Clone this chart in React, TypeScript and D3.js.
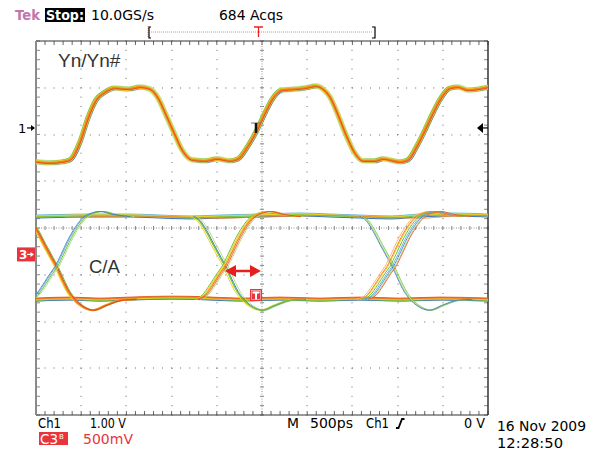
import React, { useEffect, useRef } from "react";
import * as d3 from "d3";

// Ch1 (Yn/Yn#) : time in ps, level in V
const ch1Times = [
  -2500, -2345, -2212, -2124, -2013, -1925, -1836, -1736, -1626, -1482, -1349, -1239, -1150, -1062, -973, -885,
  -774, -630, -498, -354, -265, -155, -55, 33, 122, 221, 365, 476, 597, 675, 752, 841, 929, 1018, 1117, 1250, 1338,
  1526, 1615, 1714, 1803, 1891, 1980, 2079, 2168, 2278, 2389, 2500,
];
const ch1Volts = [
  -0.725, -0.746, -0.725, -0.682, -0.298, 0.213, 0.597, 0.768, 0.853, 0.831, 0.874, 0.831, 0.64, 0.277, -0.107,
  -0.469, -0.682, -0.704, -0.661, -0.704, -0.661, -0.384, -0.043, 0.32, 0.64, 0.81, 0.831, 0.853, 0.895, 0.831,
  0.661, 0.277, -0.149, -0.512, -0.704, -0.704, -0.661, -0.725, -0.682, -0.384, -0.043, 0.32, 0.64, 0.853, 0.874,
  0.81, 0.831, 0.874,
];

// Ch3 (C/A) eye : steady levels
const ch3HighTimes = [-2500, -2234, -1902, -1460, -1128, -796, -465, -22, 420, 752, 1084, 1416, 1747, 2079, 2500];
const ch3HighVolts = [0.405, 0.411, 0.416, 0.416, 0.405, 0.395, 0.405, 0.416, 0.427, 0.416, 0.405, 0.395, 0.416, 0.427, 0.416];
const ch3LowTimes = [-2500, -2124, -1792, -1460, -1018, -686, -243, 199, 642, 1084, 1526, 1969, 2500];
const ch3LowVolts = [-0.48, -0.469, -0.48, -0.469, -0.459, -0.464, -0.48, -0.469, -0.48, -0.469, -0.48, -0.469, -0.48];

// Ch3 edges, time relative to the eye crossing
const fallTimes = [-354, -288, -221, -133, -55, 0, 66, 133, 199, 288, 409, 553, 719, 885];
const fallVolts = [0.405, 0.363, 0.267, 0.107, -0.032, -0.128, -0.267, -0.395, -0.48, -0.555, -0.597, -0.544, -0.491, -0.48];
const riseTimes = [-310, -221, -133, -55, 0, 66, 133, 221, 310, 387, 498, 642, 830];
const riseVolts = [-0.48, -0.437, -0.32, -0.203, -0.128, 0.0, 0.139, 0.288, 0.395, 0.437, 0.459, 0.427, 0.405];
const crossingTimes = [-2278, -409, 1449];

const W = 595;
const H = 453;
const left = 36;
const right = 488;
const top = 41;
const bottom = 415;

const orange = "#f08228";
const red = "#e6461e";
const yellow = "#f2d21e";
const green = "#6cbf3c";
const lightGreen = "#b4e08c";
const blue = "#3c74c4";
const cyan = "#6cb8d8";
const tekRed = "#e8343a";

type Layer = { c: string; w: number; dx?: number; dy?: number };

const App = () => {
  const svgRef = useRef<SVGSVGElement | null>(null);

  useEffect(() => {
    const svg = d3.select(svgRef.current);
    svg.selectAll("*").remove();

    const x = d3.scaleLinear().domain([-2500, 2500]).range([left, right]);
    const xDiv = d3.scaleLinear().domain([-5, 5]).range([left, right]);
    const yDiv = d3.scaleLinear().domain([-4, 4]).range([bottom, top]);
    const ch1Pos = 2.14;
    const ch3Pos = -0.565;
    const y1 = d3.scaleLinear().domain([-4 - ch1Pos, 4 - ch1Pos]).range([bottom, top]);
    const y3 = d3.scaleLinear().domain([(-4 - ch3Pos) * 0.5, (4 - ch3Pos) * 0.5]).range([bottom, top]);

    svg.append("rect").attr("width", W).attr("height", H).attr("fill", "#fff");

    svg
      .append("defs")
      .append("clipPath")
      .attr("id", "scr")
      .append("rect")
      .attr("x", left)
      .attr("y", top)
      .attr("width", right - left)
      .attr("height", bottom - top);

    // graticule
    const grid = svg.append("g");
    const minorX = d3.range(-5, 5.001, 0.2);
    const minorY = d3.range(-4, 4.001, 0.2);
    d3.range(-4, 5).forEach((i) => {
      if (i === 0) return;
      minorY.forEach((v) => {
        grid.append("rect").attr("x", Math.round(xDiv(i)) - 0.5).attr("y", yDiv(v) - 0.5).attr("width", 1).attr("height", 1).attr("fill", "#666");
      });
    });
    d3.range(-3, 4).forEach((j) => {
      if (j === 0) return;
      minorX.forEach((v) => {
        grid.append("rect").attr("x", xDiv(v) - 0.5).attr("y", Math.round(yDiv(j)) - 0.5).attr("width", 1).attr("height", 1).attr("fill", "#666");
      });
    });
    const cx = xDiv(0);
    const cy = yDiv(0);
    grid.append("line").attr("x1", cx).attr("x2", cx).attr("y1", top).attr("y2", bottom).attr("stroke", "#999").attr("stroke-dasharray", "1,1.5");
    grid.append("line").attr("x1", left).attr("x2", right).attr("y1", cy).attr("y2", cy).attr("stroke", "#999").attr("stroke-dasharray", "1,1.5");
    minorY.forEach((v) => {
      grid.append("line").attr("x1", cx - 2).attr("x2", cx + 2).attr("y1", yDiv(v)).attr("y2", yDiv(v)).attr("stroke", "#888");
      grid.append("line").attr("x1", left).attr("x2", left + 4).attr("y1", yDiv(v)).attr("y2", yDiv(v)).attr("stroke", "#888");
      grid.append("line").attr("x1", right - 4).attr("x2", right).attr("y1", yDiv(v)).attr("y2", yDiv(v)).attr("stroke", "#888");
    });
    minorX.forEach((v) => {
      grid.append("line").attr("x1", xDiv(v)).attr("x2", xDiv(v)).attr("y1", cy - 2).attr("y2", cy + 2).attr("stroke", "#888");
      grid.append("line").attr("x1", xDiv(v)).attr("x2", xDiv(v)).attr("y1", top).attr("y2", top + 4).attr("stroke", "#666");
      grid.append("line").attr("x1", xDiv(v)).attr("x2", xDiv(v)).attr("y1", bottom - 4).attr("y2", bottom).attr("stroke", "#666");
    });
    grid.append("line").attr("x1", left).attr("x2", right).attr("y1", top).attr("y2", top).attr("stroke", "#333");
    grid.append("line").attr("x1", left).attr("x2", right).attr("y1", bottom).attr("y2", bottom).attr("stroke", "#333");
    grid.append("line").attr("x1", right).attr("x2", right).attr("y1", top).attr("y2", bottom).attr("stroke", "#333").attr("stroke-width", 1.5);
    grid.append("line").attr("x1", left).attr("x2", left).attr("y1", top).attr("y2", bottom).attr("stroke", "#8a8a8a").attr("stroke-width", 2);

    const traces = svg.append("g").attr("clip-path", "url(#scr)");
    const draw = (d: string, layers: Layer[]) => {
      layers.forEach((l) => {
        traces
          .append("path")
          .attr("d", d)
          .attr("fill", "none")
          .attr("stroke", l.c)
          .attr("stroke-width", l.w)
          .attr("stroke-linejoin", "round")
          .attr("transform", `translate(${l.dx || 0},${l.dy || 0})`);
      });
    };

    const line1 = d3
      .line<number>()
      .x((_, i) => x(ch1Times[i]))
      .y((v) => y1(v))
      .curve(d3.curveMonotoneX);
    draw(line1(ch1Volts)!, [
      { c: lightGreen, w: 5.5 },
      { c: blue, w: 1, dx: 1.4, dy: 1.4 },
      { c: green, w: 1.2, dx: -1.4, dy: -1.2 },
      { c: yellow, w: 3.6 },
      { c: orange, w: 2.4 },
      { c: red, w: 0.8, dx: 0.4, dy: 0.6 },
    ]);

    // Ch3 levels
    const high = d3
      .line<number>()
      .x((_, i) => x(ch3HighTimes[i]))
      .y((v) => y3(v))
      .curve(d3.curveMonotoneX);
    draw(high(ch3HighVolts)!, [
      { c: lightGreen, w: 3 },
      { c: blue, w: 1, dy: 1.5 },
      { c: cyan, w: 1, dy: -1.5 },
      { c: green, w: 1.4 },
      { c: yellow, w: 1, dy: -0.6 },
      { c: orange, w: 0.8, dx: 30, dy: 0.8 },
    ]);
    const low = d3
      .line<number>()
      .x((_, i) => x(ch3LowTimes[i]))
      .y((v) => y3(v))
      .curve(d3.curveMonotoneX);
    draw(low(ch3LowVolts)!, [
      { c: lightGreen, w: 3.5, dy: 0.5 },
      { c: blue, w: 1, dy: 1.8 },
      { c: green, w: 1.2, dy: 1 },
      { c: yellow, w: 2 },
      { c: orange, w: 1.4, dy: -0.5 },
      { c: red, w: 0.8, dy: -1.2 },
    ]);

    const edgeColours: { fall: Layer[]; rise: Layer[] }[] = [
      {
        fall: [
          { c: yellow, w: 1.2, dx: -1.5 },
          { c: green, w: 1, dx: 2 },
          { c: orange, w: 2 },
          { c: red, w: 1, dx: 1 },
        ],
        rise: [
          { c: cyan, w: 1 },
          { c: lightGreen, w: 1, dx: 3 },
          { c: green, w: 1, dx: 1.5 },
          { c: blue, w: 0.8, dx: -1 },
        ],
      },
      {
        fall: [
          { c: lightGreen, w: 1, dx: 3 },
          { c: yellow, w: 1, dx: -2 },
          { c: blue, w: 1, dx: 1 },
          { c: green, w: 1.2 },
        ],
        rise: [
          { c: lightGreen, w: 1, dx: 3 },
          { c: green, w: 1, dx: -3 },
          { c: yellow, w: 1.2, dx: -1.5 },
          { c: orange, w: 1.2 },
          { c: red, w: 0.8, dx: 1.5 },
        ],
      },
      {
        fall: [
          { c: lightGreen, w: 1.2 },
          { c: green, w: 0.8, dx: 1.5 },
          { c: blue, w: 0.8, dx: -1 },
        ],
        rise: [
          { c: "#f8b878", w: 1, dx: -8 },
          { c: yellow, w: 1, dx: -5 },
          { c: green, w: 1, dx: -3 },
          { c: cyan, w: 1, dx: -1 },
          { c: blue, w: 0.8, dx: 0.5 },
          { c: lightGreen, w: 1, dx: 2 },
          { c: orange, w: 1, dx: -6 },
          { c: red, w: 0.8, dx: 3 },
        ],
      },
    ];

    crossingTimes.forEach((t0, k) => {
      const fall = d3
        .line<number>()
        .x((_, i) => x(t0 + fallTimes[i]))
        .y((v) => y3(v))
        .curve(d3.curveMonotoneX);
      const rise = d3
        .line<number>()
        .x((_, i) => x(t0 + riseTimes[i]))
        .y((v) => y3(v))
        .curve(d3.curveMonotoneX);
      draw(fall(fallVolts)!, edgeColours[k].fall);
      draw(rise(riseVolts)!, edgeColours[k].rise);
    });

    // markers
    const m = svg.append("g");
    // ch1 ground
    m.append("text").attr("x", 18).attr("y", 133).attr("font-family", "DejaVu Sans").attr("font-size", 13).text("1");
    m.append("line").attr("x1", 27).attr("x2", 34).attr("y1", y1(0)).attr("y2", y1(0)).attr("stroke", "#000").attr("stroke-width", 1.2);
    m.append("path").attr("d", `M35,${y1(0)} l-4,-3 v6 z`).attr("fill", "#000");
    // trigger level
    m.append("line").attr("x1", 480).attr("x2", right).attr("y1", y1(0)).attr("y2", y1(0)).attr("stroke", "#000").attr("stroke-width", 1.2);
    m.append("path").attr("d", `M477,${y1(0)} l6,-5 v10 z`).attr("fill", "#000");
    // ch3 ground
    m.append("rect").attr("x", 17).attr("y", y3(0) - 7).attr("width", 18).attr("height", 14).attr("fill", tekRed);
    m.append("text").attr("x", 19).attr("y", y3(0) + 5).attr("font-family", "DejaVu Sans").attr("font-weight", "bold").attr("font-size", 12).attr("fill", "#fff").text("3");
    m.append("line").attr("x1", 27).attr("x2", 33).attr("y1", y3(0)).attr("y2", y3(0)).attr("stroke", "#fff").attr("stroke-width", 1.2);
    m.append("path").attr("d", `M34,${y3(0)} l-3.5,-2.5 v5 z`).attr("fill", "#fff");

    // trigger T on Ch1
    m.append("line").attr("x1", 251).attr("x2", 261).attr("y1", 123).attr("y2", 123).attr("stroke", "#777").attr("stroke-width", 1);
    m.append("line").attr("x1", 256).attr("x2", 256).attr("y1", 123).attr("y2", 133).attr("stroke", "#111").attr("stroke-width", 2.5);

    // red double arrow
    const ay = 271;
    m.append("line").attr("x1", 232).attr("x2", 254).attr("y1", ay).attr("y2", ay).attr("stroke", "#e61e1e").attr("stroke-width", 2.5);
    m.append("path").attr("d", `M225,${ay} l11,-6 v12 z`).attr("fill", "#e61e1e");
    m.append("path").attr("d", `M261,${ay} l-11,-6 v12 z`).attr("fill", "#e61e1e");

    // red T box
    m.append("rect").attr("x", 250).attr("y", 289).attr("width", 12).attr("height", 12).attr("fill", tekRed);
    m.append("rect").attr("x", 251.5).attr("y", 290.5).attr("width", 9).attr("height", 9).attr("fill", "none").attr("stroke", "#f8b0b0").attr("stroke-width", 0.8);
    m.append("path").attr("d", "M252.5,292.5 h7 M256,292.5 v7").attr("stroke", "#fff").attr("stroke-width", 2);

    // top status line
    const t = svg.append("g").attr("font-family", "DejaVu Sans").attr("font-size", 14);
    t.append("text").attr("x", 15).attr("y", 20).attr("fill", "#c274ac").attr("font-weight", "bold").attr("textLength", 25).attr("lengthAdjust", "spacingAndGlyphs").text("Tek");
    t.append("rect").attr("x", 45).attr("y", 8).attr("width", 40).attr("height", 14).attr("fill", "#000");
    t.append("text").attr("x", 46).attr("y", 20).attr("fill", "#fff").attr("font-weight", "bold").attr("textLength", 38).attr("lengthAdjust", "spacingAndGlyphs").text("Stop:");
    t.append("text").attr("x", 91).attr("y", 20).attr("fill", "#000").attr("textLength", 63).attr("lengthAdjust", "spacingAndGlyphs").text("10.0GS/s");
    t.append("text").attr("x", 219).attr("y", 20).attr("fill", "#000").attr("textLength", 64).attr("lengthAdjust", "spacingAndGlyphs").text("684 Acqs");
    // record bracket
    t.append("line").attr("x1", 148).attr("x2", 148).attr("y1", 26).attr("y2", 38).attr("stroke", "#f08080").attr("stroke-dasharray", "1,1");
    t.append("path").attr("d", "M151,27 h-2 v11 h2").attr("fill", "none").attr("stroke", "#000").attr("stroke-width", 1.2);
    t.append("line").attr("x1", 151).attr("x2", 372).attr("y1", 32).attr("y2", 32).attr("stroke", "#f08080").attr("stroke-dasharray", "1,1");
    t.append("path").attr("d", "M372,27 h3 v11 h-3").attr("fill", "none").attr("stroke", "#000").attr("stroke-width", 1.2);
    t.append("path").attr("d", "M254,27 h9 M258.5,27 v10").attr("stroke", "#f02020").attr("stroke-width", 1.3);

    // channel labels
    const lab = svg.append("g").attr("font-family", "Liberation Sans, Arial").attr("fill", "#333");
    lab.append("text").attr("x", 58).attr("y", 67).attr("font-size", 19).text("Yn/Yn#");
    lab.append("text").attr("x", 89).attr("y", 273).attr("font-size", 18.5).text("C/A");

    // bottom readout
    const b = svg.append("g").attr("font-family", "DejaVu Sans").attr("font-size", 13.5);
    const by = 428;
    b.append("text").attr("x", 38).attr("y", by).attr("textLength", 23).attr("lengthAdjust", "spacingAndGlyphs").text("Ch1");
    b.append("text").attr("x", 90).attr("y", by).attr("textLength", 36).attr("lengthAdjust", "spacingAndGlyphs").text("1.00 V");
    b.append("text").attr("x", 287).attr("y", by).attr("textLength", 12).attr("lengthAdjust", "spacingAndGlyphs").text("M");
    b.append("text").attr("x", 310).attr("y", by).attr("textLength", 43).attr("lengthAdjust", "spacingAndGlyphs").text("500ps");
    b.append("text").attr("x", 366).attr("y", by).attr("textLength", 23).attr("lengthAdjust", "spacingAndGlyphs").text("Ch1");
    b.append("path").attr("d", "M396,428 h2.5 l3.5,-9 h2.5").attr("fill", "none").attr("stroke", "#000").attr("stroke-width", 1.8);
    b.append("text").attr("x", 485).attr("y", by).attr("text-anchor", "end").attr("textLength", 21).attr("lengthAdjust", "spacingAndGlyphs").text("0 V");
    b.append("rect").attr("x", 39).attr("y", 432).attr("width", 29).attr("height", 13).attr("fill", tekRed);
    b.append("text").attr("x", 40).attr("y", 444).attr("fill", "#fff").attr("textLength", 18).attr("lengthAdjust", "spacingAndGlyphs").text("C3");
    b.append("text").attr("x", 59).attr("y", 439).attr("fill", "#fff").attr("font-size", 7).text("B");
    b.append("text").attr("x", 83).attr("y", 444).attr("fill", tekRed).attr("textLength", 50).attr("lengthAdjust", "spacingAndGlyphs").text("500mV");
    b.append("text").attr("x", 497).attr("y", 431).attr("font-size", 14).attr("textLength", 89).attr("lengthAdjust", "spacingAndGlyphs").text("16 Nov 2009");
    b.append("text").attr("x", 497).attr("y", 448).attr("font-size", 14).attr("textLength", 66).attr("lengthAdjust", "spacingAndGlyphs").text("12:28:50");
  }, []);

  return <svg ref={svgRef} width={W} height={H} style={{ position: "absolute", left: 0, top: 0 }} />;
};

export default App;
